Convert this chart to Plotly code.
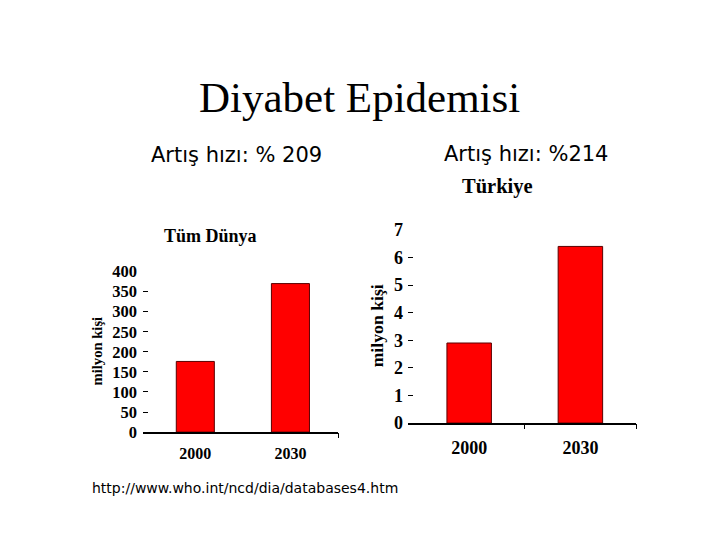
import plotly.graph_objects as go

years = ["2000", "2030"]
world_values = [176, 370]
turkey_values = [2.9, 6.4]
world_ticks = [0, 50, 100, 150, 200, 250, 300, 350, 400]
turkey_ticks = [0, 1, 2, 3, 4, 5, 6, 7]

# page has an 8px body margin; figure sized so the page is 720x540
OFF = 8
W, H = 720 - 2 * OFF, 540 - 2 * OFF
def px_x(p): return (p - OFF) / W
def px_y(p): return 1 - (p - OFF) / H

serif = "Liberation Serif"
sans = "DejaVu Sans"

fig = go.Figure()
bar_style = dict(marker=dict(color="#ff0000", line=dict(color="#5a0000", width=1)), width=0.4, showlegend=False)
fig.add_trace(go.Bar(x=years, y=world_values, xaxis="x", yaxis="y", **bar_style))
fig.add_trace(go.Bar(x=years, y=turkey_values, xaxis="x2", yaxis="y2", **bar_style))

xr = [-0.55, 1.5]
def bfont(size): return dict(family=serif, size=size, color="black", weight="bold")
common_x = dict(type="category", range=xr, showline=True, linecolor="black", linewidth=1.5,
                ticks="", showgrid=False, zeroline=False)
common_y = dict(showline=False, showgrid=False, zeroline=False, ticks="inside", ticklen=5,
                tickcolor="black", tickwidth=1)

fig.update_layout(
    width=W, height=H, margin=dict(l=0, r=0, t=0, b=0),
    paper_bgcolor="white", plot_bgcolor="rgba(0,0,0,0)",
    xaxis=dict(domain=[px_x(143), px_x(338)], anchor="y", tickfont=bfont(16), ticklabelstandoff=6, **common_x),
    yaxis=dict(domain=[px_y(438.7), px_y(271.7)], range=[0, 401], tickvals=world_ticks,
               tickfont=bfont(16.5), ticklabelstandoff=5, anchor="x", **common_y),
    xaxis2=dict(domain=[px_x(408), px_x(636)], anchor="y2", tickfont=bfont(18), ticklabelstandoff=8, **common_x),
    yaxis2=dict(domain=[px_y(429.3), px_y(228.3)], range=[0, 7.02], tickvals=turkey_ticks,
                tickfont=bfont(18), ticklabelstandoff=4, anchor="x2", **common_y),
    xaxis3=dict(domain=[px_x(143), px_x(338)], anchor="y", overlaying="x", range=xr, tickvals=[1.5],
                ticks="outside", ticklen=5, tickcolor="black", showticklabels=False,
                showgrid=False, zeroline=False, showline=False),
    xaxis4=dict(domain=[px_x(408), px_x(636)], anchor="y2", overlaying="x2", range=xr, tickvals=[0.5, 1.5],
                ticks="outside", ticklen=5, tickcolor="black", showticklabels=False,
                showgrid=False, zeroline=False, showline=False),
)
fig.add_trace(go.Scatter(x=[], y=[], xaxis="x3", yaxis="y", showlegend=False))
fig.add_trace(go.Scatter(x=[], y=[], xaxis="x4", yaxis="y2", showlegend=False))

def ann(text, x, y, size, family, bold=False, angle=0):
    fig.add_annotation(text=("<b>%s</b>" % text) if bold else text, x=px_x(x), y=px_y(y),
                       xref="paper", yref="paper", showarrow=False, textangle=angle,
                       xanchor="center", yanchor="middle",
                       font=dict(family=family, size=size, color="black"))

ann("Diyabet Epidemisi", 359, 92, 43, serif)
ann("Artış hızı: % 209", 237, 151, 21, sans)
ann("Artış hızı: %214", 526, 150, 21, sans)
ann("Tüm Dünya", 210, 235, 18, serif, bold=True)
ann("Türkiye", 497, 184, 20.5, serif, bold=True)
ann("milyon kişi", 97, 355, 14.6, serif, bold=True, angle=-90)
ann("milyon kişi", 377, 329, 17.7, serif, bold=True, angle=-90)
ann("http://www.who.int/ncd/dia/databases4.htm", 245, 497, 14, sans)

fig.write_html("out.html", config={"displayModeBar": False})
